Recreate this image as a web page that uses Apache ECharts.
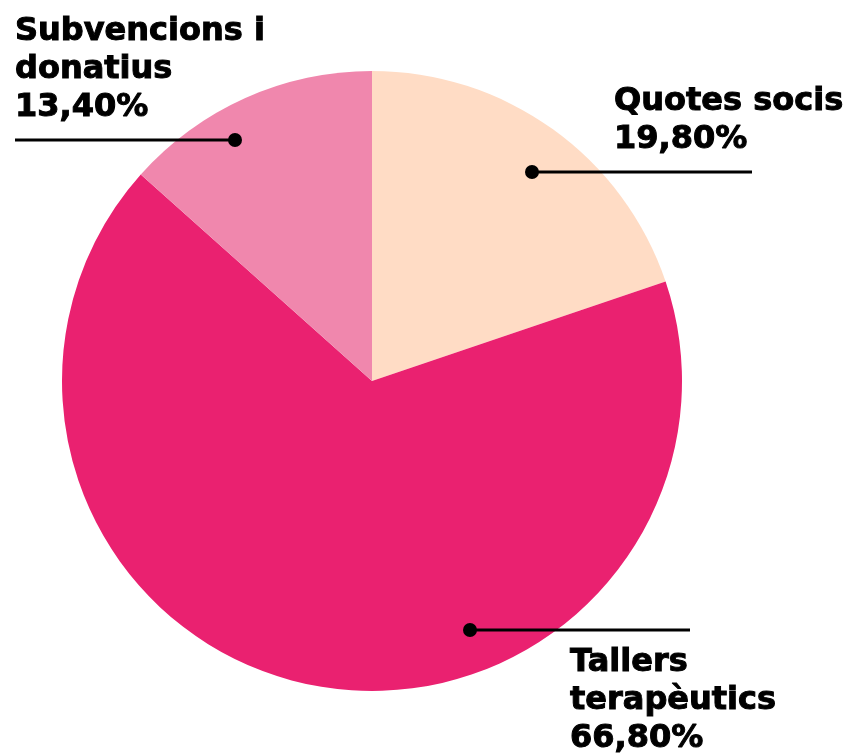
<!DOCTYPE html>
<html>
<head>
<meta charset="utf-8">
<style>
html,body{margin:0;padding:0;background:#fff;}
#chart{width:854px;height:755px;}
</style>
<script src="https://cdn.jsdelivr.net/npm/echarts@6/dist/echarts.min.js"></script>
</head>
<body>
<div id="chart"></div>
<script>
const categories = ['Quotes socis', 'Tallers terapèutics', 'Subvencions i donatius'];
const values = [19.8, 66.8, 13.4];
const labelLines = ['Quotes socis', 'Tallers\nterapèutics', 'Subvencions i\ndonatius'];
const colors = ['#FFDCC5', '#EA2170', '#F087AD'];

// label placement (pixels): text box + leader line (dot end first)
const labelPos = [
  {x: 614, y: 83, lineFrom: [532, 172], lineTo: [752, 172]},
  {x: 570, y: 644, lineFrom: [470, 630], lineTo: [690, 630]},
  {x: 15, y: 13, lineFrom: [235, 140], lineTo: [15, 140]}
];

const chart = echarts.init(document.getElementById('chart'));
const fmt = v => v.toFixed(2).replace('.', ',') + '%';

const leaders = [];
labelPos.forEach(p => {
  leaders.push({
    type: 'line',
    shape: {x1: p.lineFrom[0], y1: p.lineFrom[1], x2: p.lineTo[0], y2: p.lineTo[1]},
    style: {stroke: '#000', lineWidth: 3},
    z: 100
  });
  leaders.push({
    type: 'circle',
    shape: {cx: p.lineFrom[0], cy: p.lineFrom[1], r: 7},
    style: {fill: '#000'},
    z: 101
  });
});

chart.setOption({
  animation: false,
  graphic: leaders,
  series: [{
    type: 'pie',
    center: [372, 381],
    radius: 310,
    startAngle: 90,
    clockwise: true,
    avoidLabelOverlap: false,
    data: categories.map((c, i) => ({name: c, value: values[i], itemStyle: {color: colors[i]}})),
    label: {
      show: true,
      position: 'outside',
      formatter: p => labelLines[p.dataIndex] + '\n' + fmt(p.value),
      fontFamily: 'DejaVu Sans',
      fontWeight: 'bold',
      fontSize: 32,
      lineHeight: 38,
      color: '#000',
      textBorderColor: '#000',
      textBorderWidth: 1,
      align: 'left'
    },
    labelLine: {show: false},
    labelLayout: function (params) {
      const p = labelPos[params.dataIndex];
      return {x: p.x, y: p.y, align: 'left', verticalAlign: 'top'};
    },
    emphasis: {disabled: true}
  }]
});
</script>
</body>
</html>
